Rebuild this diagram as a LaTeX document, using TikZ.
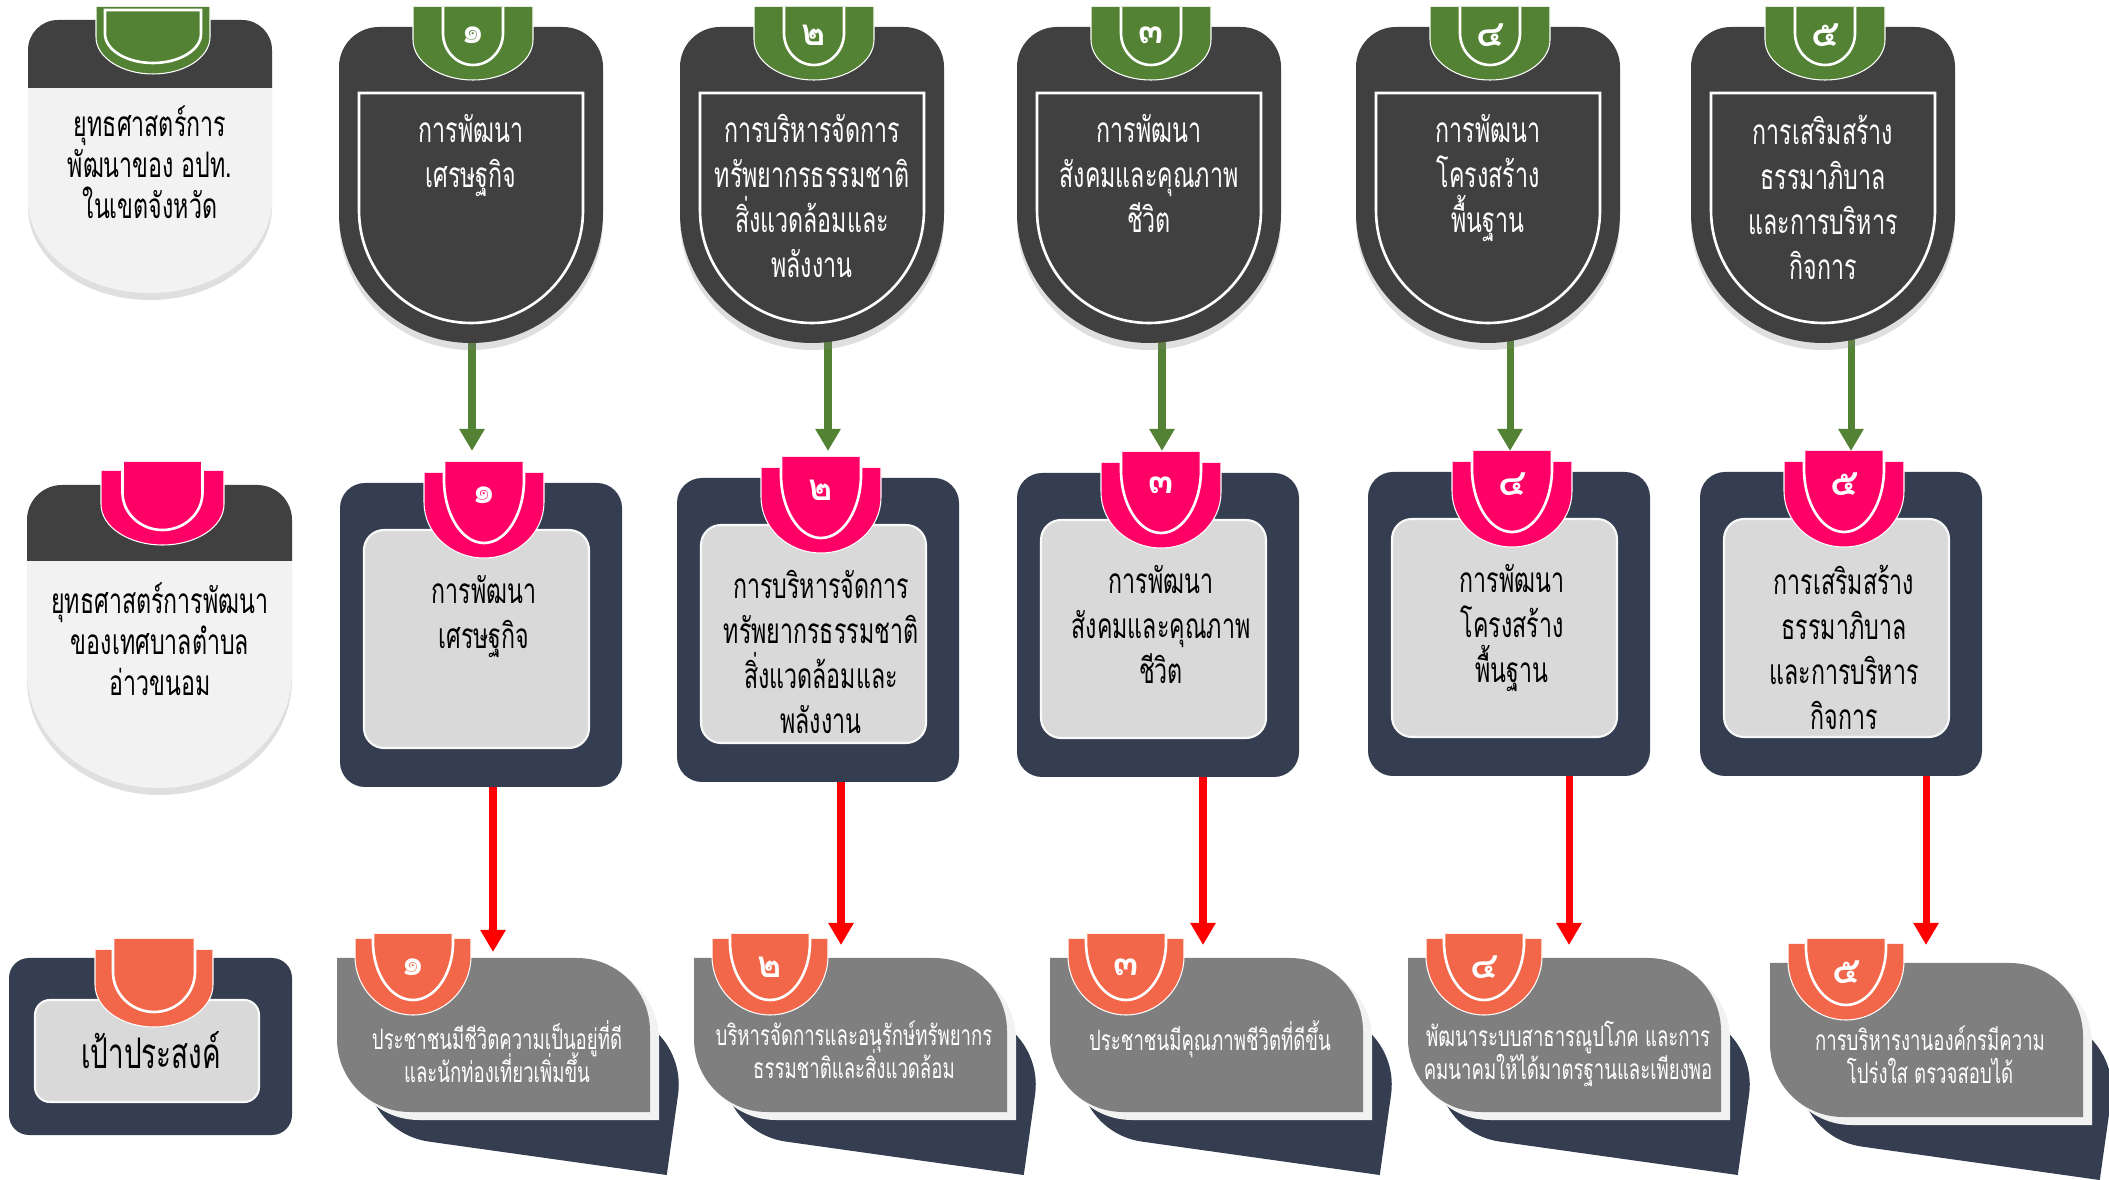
\documentclass[tikz,border=0pt]{standalone}
\usepackage{fontspec}
\newfontfamily\thaifont[Script=Thai,FakeStretch=0.66]{Loma}
\newfontfamily\thaidigits[Script=Thai]{Loma}
\usetikzlibrary{arrows.meta,shadows}

\definecolor{shieldgray}{HTML}{404040}
\definecolor{tabgreen}{HTML}{548235}
\definecolor{tabpink}{HTML}{FF0066}
\definecolor{taborange}{HTML}{F26649}
\definecolor{boxnavy}{HTML}{343E50}
\definecolor{boxlight}{HTML}{D9D9D9}
\definecolor{labellight}{HTML}{F2F2F2}
\definecolor{goalgray}{HTML}{7F7F7F}

% strategy texts, used in row 1 and row 2
\newcommand{\stratone}{การพัฒนา\\เศรษฐกิจ}
\newcommand{\strattwo}{การบริหารจัดการ\\ทรัพยากรธรรมชาติ\\สิ่งแวดล้อมและ\\พลังงาน}
\newcommand{\stratthree}{การพัฒนา\\สังคมและคุณภาพ\\ชีวิต}
\newcommand{\stratfour}{การพัฒนา\\โครงสร้าง\\พื้นฐาน}
\newcommand{\stratfive}{การเสริมสร้าง\\ธรรมาภิบาล\\และการบริหาร\\กิจการ}
\newcommand{\goalfont}{\thaifont\fontsize{8}{9.4}\selectfont\setlength{\lineskiplimit}{-5pt}}

% U outline: style, centre x, top, half width, bottom, straight part, path end
\newcommand{\ushape}[7]{%
  \pgfmathsetmacro\bdgX{#2}\pgfmathsetmacro\bdgT{#3}\pgfmathsetmacro\bdgB{#5}%
  \pgfmathsetmacro\bdgL{#2-#4}\pgfmathsetmacro\bdgR{#2+#4}%
  \pgfmathsetmacro\bdgS{#3+#6*(\bdgB-#3)}\pgfmathsetmacro\bdgC{\bdgS+0.552*(\bdgB-\bdgS)}%
  \pgfmathsetmacro\bdgHL{#2-0.552*#4}\pgfmathsetmacro\bdgHR{#2+0.552*#4}%
  \path[#1] (\bdgL,\bdgT) -- (\bdgL,\bdgS) .. controls (\bdgL,\bdgC) and (\bdgHL,\bdgB) .. (\bdgX,\bdgB)
    .. controls (\bdgHR,\bdgB) and (\bdgR,\bdgC) .. (\bdgR,\bdgS) -- (\bdgR,\bdgT) #7;}

% rounded top, round bottom: style, centre x, top, half width, corner, straight end, bottom
\newcommand{\capsule}[7]{%
  \pgfmathsetmacro\capX{#2}%
  \pgfmathsetmacro\capL{#2-#4}\pgfmathsetmacro\capR{#2+#4}%
  \pgfmathsetmacro\capT{#3+#5}\pgfmathsetmacro\capTc{#3+0.448*#5}%
  \pgfmathsetmacro\capLi{#2-#4+#5}\pgfmathsetmacro\capRi{#2+#4-#5}%
  \pgfmathsetmacro\capLc{#2-#4+0.448*#5}\pgfmathsetmacro\capRc{#2+#4-0.448*#5}%
  \pgfmathsetmacro\capC{#6+0.552*(#7-#6)}%
  \pgfmathsetmacro\capHL{#2-0.552*#4}\pgfmathsetmacro\capHR{#2+0.552*#4}%
  \path[#1] (\capL,#6) -- (\capL,\capT) .. controls (\capL,\capTc) and (\capLc,#3) .. (\capLi,#3)
    -- (\capRi,#3) .. controls (\capRc,#3) and (\capR,\capTc) .. (\capR,\capT)
    -- (\capR,#6) .. controls (\capR,\capC) and (\capHR,#7) .. (\capX,#7)
    .. controls (\capHL,#7) and (\capL,\capC) .. (\capL,#6) -- cycle;}

% leaf: style, centre x, centre y, half width, half height, radius
\newcommand{\leaf}[6]{%
  \pgfmathsetmacro\lfL{#2-#4}\pgfmathsetmacro\lfR{#2+#4}%
  \pgfmathsetmacro\lfT{#3-#5}\pgfmathsetmacro\lfB{#3+#5}%
  \pgfmathsetmacro\lfRa{#2+#4-#6}\pgfmathsetmacro\lfRb{#2+#4-0.448*#6}%
  \pgfmathsetmacro\lfTa{#3-#5+#6}\pgfmathsetmacro\lfTb{#3-#5+0.448*#6}%
  \pgfmathsetmacro\lfLa{#2-#4+#6}\pgfmathsetmacro\lfLb{#2-#4+0.448*#6}%
  \pgfmathsetmacro\lfBa{#3+#5-#6}\pgfmathsetmacro\lfBb{#3+#5-0.448*#6}%
  \path[#1] (\lfL,\lfT) -- (\lfRa,\lfT) .. controls (\lfRb,\lfT) and (\lfR,\lfTb) .. (\lfR,\lfTa)
    -- (\lfR,\lfB) -- (\lfLa,\lfB) .. controls (\lfLb,\lfB) and (\lfL,\lfBb) .. (\lfL,\lfBa) -- cycle;}

% tab: centre x, shoulder top, tongue top, outer half width, outer bottom, tongue half width, colour
\newcommand{\badge}[7]{%
  \ushape{fill=#7, draw=white, line width=0.3pt}{#1}{#2}{#4}{#5}{0.45}{}%
  \ushape{fill=#7}{#1}{#3}{#6}{#5-15}{0.45}{}%
  \ushape{draw=white, line width=0.75pt}{#1}{#3}{#6}{#5-15}{0.45}{}}

\begin{document}
\begin{tikzpicture}[x=0.01cm, y=-0.01cm,
    toptext/.style={align=center, inner sep=0pt, anchor=north, text=white,
      font=\thaifont\fontsize{10}{12.8}\selectfont},
    boxtext/.style={toptext, text=black},
    labeltext/.style={toptext, text=black, font=\thaifont\fontsize{10}{11.6}\selectfont},
    goaltext/.style={toptext, font=\goalfont},
    numeral/.style={inner sep=0pt, text=white, font=\thaidigits\bfseries\fontsize{10.5}{10.5}\selectfont},
    arrowdown/.style={line width=2pt, -{Triangle[width=0.24cm, length=0.22cm]}},
    greenarrow/.style={arrowdown, draw=tabgreen},
    redarrow/.style={arrowdown, draw=red},
    softshadow/.style={drop shadow={shadow xshift=0pt, shadow yshift=-0.07cm, opacity=0.25}}]
  \useasboundingbox (0,0) rectangle (2109,1180);
  \clip (0,0) rectangle (2109,1180);

  % connectors first, the shapes cover their tails
  \foreach \x [count=\i] in {472,828,1162,1510,1851}{
    \coordinate (ga\i) at (\x,330);
    \coordinate (gb\i) at (\x,451);
    \draw[greenarrow] (ga\i) -- (gb\i);
  }
  \foreach \x/\y [count=\i] in {493/952,841/945,1203/945,1569/945,1926/945}{
    \coordinate (ra\i) at (\x,770);
    \coordinate (rb\i) at (\x,\y);
    \draw[redarrow] (ra\i) -- (rb\i);
  }

  % left labels
  \capsule{fill=labellight, softshadow}{150}{20}{122}{30}{200}{293}
  \begin{scope}
    \clip (0,0) rectangle (300,88);
    \capsule{fill=shieldgray}{150}{20}{122}{30}{200}{293}
  \end{scope}
  \ushape{fill=tabgreen, draw=white, line width=0.3pt}{153}{7}{57}{74}{0.45}{}
  \ushape{draw=white, line width=0.75pt}{153}{10}{48}{63}{0.45}{-- cycle}
  \node[labeltext] (lab1) at (150,105) {ยุทธศาสตร์การ\\พัฒนาของ อปท.\\ในเขตจังหวัด};

  \capsule{fill=labellight, softshadow}{159.5}{485}{132.5}{35}{673}{788}
  \begin{scope}
    \clip (0,400) rectangle (320,561);
    \capsule{fill=shieldgray}{159.5}{485}{132.5}{35}{673}{788}
  \end{scope}
  \badge{162.5}{471}{462}{61.5}{545}{40}{tabpink}
  \node[labeltext] (lab2) at (160,582) {ยุทธศาสตร์การพัฒนา\\ของเทศบาลตำบล\\อ่าวขนอม};

  \fill[boxnavy, rounded corners=0.2cm] (9,958) rectangle (292,1135);
  \filldraw[fill=boxlight, draw=white!85!boxlight, line width=0.6pt, rounded corners=0.15cm] (35,1000) rectangle (259,1102);
  \badge{154}{950}{939}{59}{1027}{41}{taborange}
  \node[inner sep=0pt, font=\thaifont\fontsize{12}{14}\selectfont] (lab3) at (151,1050) {เป้าประสงค์};

  % row 1: strategies of the province
  \foreach \cx/\digit/\txt [count=\i, evaluate=\cx as \tx using \cx+2] in
    {471/๑/\stratone, 812/๒/\strattwo, 1149/๓/\stratthree, 1488/๔/\stratfour, 1823/๕/\stratfive}{
    \capsule{fill=shieldgray, softshadow}{\cx}{27}{132}{40}{213}{343}
    \ushape{draw=white, line width=0.75pt}{\cx}{93}{112}{323}{0.51}{-- cycle}
    \badge{\tx}{7}{7}{60}{80}{30}{tabgreen}
    \node[numeral] (sn\i) at (\tx,35) {\digit};
    \node[toptext] (sh\i) at (\cx,114) {\txt};
  }

  % row 2: strategies of the municipality
  \foreach \bleft/\btop/\digit/\txt [count=\i, evaluate=\bleft as \tx using \bleft+144] in
    {340/483/๑/\stratone, 677/478/๒/\strattwo, 1017/473/๓/\stratthree, 1368/472/๔/\stratfour, 1700/472/๕/\stratfive}{
    \fill[boxnavy, rounded corners=0.25cm] (\bleft,\btop) rectangle ++(282,304);
    \filldraw[fill=boxlight, draw=white!85!boxlight, line width=0.6pt, rounded corners=0.2cm]
      (\bleft+24,\btop+47) rectangle ++(225,218);
    \badge{\tx}{\btop-10}{\btop-21}{60}{\btop+75}{40}{tabpink}
    \node[numeral] (bn\i) at (\tx,\btop+12) {\digit};
    \node[boxtext] (bx\i) at (\tx,\btop+92) {\txt};
  }

  % row 3: goals
  \foreach \gleft/\gtop/\digit/\txt [count=\i, evaluate=\gleft as \gx using \gleft+156.5, evaluate=\gtop as \gy using \gtop+77] in
    {337/958/๑/{ประชาชนมีชีวิตความเป็นอยู่ที่ดี\\และนักท่องเที่ยวเพิ่มขึ้น},
     694/958/๒/{บริหารจัดการและอนุรักษ์ทรัพยากร\\ธรรมชาติและสิ่งแวดล้อม},
     1050/958/๓/{ประชาชนมีคุณภาพชีวิตที่ดีขึ้น},
     1408/958/๔/{พัฒนาระบบสาธารณูปโภค และการ\\คมนาคมให้ได้มาตรฐานและเพียงพอ},
     1770/963/๕/{การบริหารงานองค์กรมีความ\\โปร่งใส ตรวจสอบได้}}{
    \begin{scope}[shift={(\gx+29,\gy+42)}, rotate=-8]
      \leaf{fill=boxnavy}{0}{0}{156.5}{77}{73}
    \end{scope}
    \leaf{fill=labellight}{\gx+9}{\gy+8}{156.5}{77}{73}
    \leaf{fill=goalgray}{\gx}{\gy}{156.5}{77}{73}
    \badge{\gleft+76}{\gtop-19}{\gtop-24}{58}{\gtop+57}{40}{taborange}
    \node[numeral] (gn\i) at (\gleft+76,\gtop+9) {\digit};
    \node[goaltext] (gl\i) at (\gleft+160,\gtop+62) {\txt};
  }
\end{tikzpicture}
\end{document}
